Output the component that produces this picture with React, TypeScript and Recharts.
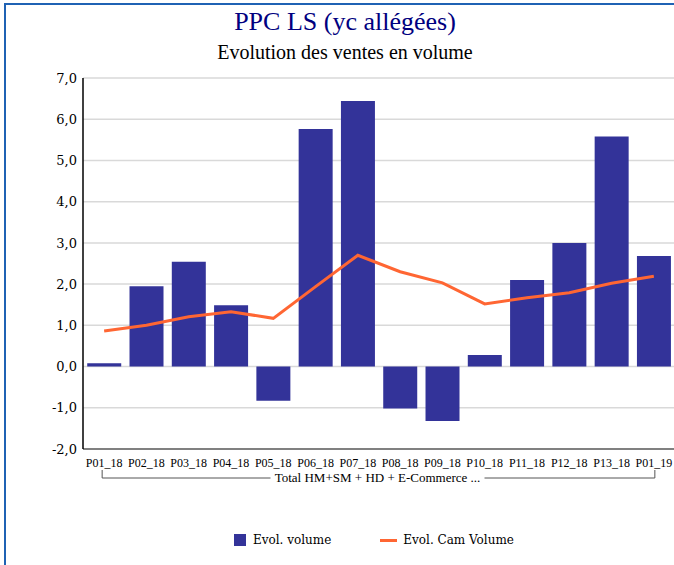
import React from "react";
import {
  ComposedChart,
  Bar,
  Line,
  XAxis,
  YAxis,
  CartesianGrid,
} from "recharts";

const categories = [
  "P01_18", "P02_18", "P03_18", "P04_18", "P05_18", "P06_18", "P07_18",
  "P08_18", "P09_18", "P10_18", "P11_18", "P12_18", "P13_18", "P01_19",
];
const evolVolume = [0.08, 1.95, 2.54, 1.49, -0.83, 5.76, 6.44, -1.02, -1.32, 0.28, 2.1, 3.0, 5.58, 2.68];
const evolCamVolume = [0.86, 1.0, 1.21, 1.33, 1.17, 1.94, 2.7, 2.3, 2.03, 1.52, 1.67, 1.79, 2.02, 2.19];
const yTicks = [-2, -1, 0, 1, 2, 3, 4, 5, 6, 7];
const groupLabel = "Total HM+SM + HD + E-Commerce ...";
const title = "PPC LS (yc allégées)";
const subtitle = "Evolution des ventes en volume";
const seriesNames = ["Evol. volume", "Evol. Cam Volume"];

const data = categories.map((c, i) => ({
  cat: c,
  vol: evolVolume[i],
  cam: evolCamVolume[i],
}));

const BAR_COLOR = "#333399";
const LINE_COLOR = "#ff6633";

const CHART_W = 680;
const CHART_H = 565;
const MARGIN = { top: 78, right: 5, bottom: 86, left: 0 };
const Y_W = 83;
const X_H = 30;
const PLOT_LEFT = MARGIN.left + Y_W;
const PLOT_W = CHART_W - MARGIN.left - MARGIN.right - Y_W;
const BAND = PLOT_W / categories.length;

const fmt = (v: number) => v.toFixed(1).replace(".", ",");

export default function App() {
  const bx1 = PLOT_LEFT + BAND / 2 - 2;
  const bx2 = PLOT_LEFT + PLOT_W - BAND / 2 + 1;
  const bmid = (bx1 + bx2) / 2;
  return (
    <div style={{ position: "absolute", left: 0, top: 0, width: 674, height: 565, overflow: "hidden", background: "#fff" }}>
      <div
        style={{
          position: "absolute",
          left: 4,
          top: 3,
          width: 720,
          height: 620,
          border: "2px solid #1f62b4",
          boxSizing: "border-box",
        }}
      />
      <div
        style={{
          position: "absolute",
          left: 0,
          width: 690,
          top: 8,
          textAlign: "center",
          fontFamily: "'Liberation Serif', serif",
          fontSize: 26,
          lineHeight: "28px",
          color: "#000080",
        }}
      >
        {title}
      </div>
      <div
        style={{
          position: "absolute",
          left: 0,
          width: 690,
          top: 42,
          textAlign: "center",
          fontFamily: "'Liberation Serif', serif",
          fontSize: 20,
          lineHeight: "21px",
          color: "#000",
        }}
      >
        {subtitle}
      </div>
      <div style={{ position: "absolute", left: 0, top: 0 }}>
        <ComposedChart width={CHART_W} height={CHART_H} data={data} margin={MARGIN} barCategoryGap="10%">
          <CartesianGrid horizontal vertical={false} stroke="#d9d9d9" strokeWidth={1.5} />
          <XAxis
            dataKey="cat"
            height={X_H}
            interval={0}
            tickLine={false}
            tickMargin={3}
            axisLine={{ stroke: "#808080", strokeWidth: 2 }}
            tick={{ fill: "#000", fontSize: 12, fontFamily: "Liberation Serif, serif" }}
          />
          <YAxis
            width={Y_W}
            domain={[-2, 7]}
            ticks={yTicks}
            interval={0}
            tickFormatter={fmt}
            tickLine={false}
            tickMargin={0}
            axisLine={{ stroke: "#000", strokeWidth: 1.5 }}
            tick={{ fill: "#000", fontSize: 13, fontFamily: "DejaVu Serif, serif" }}
          />
          <Bar dataKey="vol" fill={BAR_COLOR} isAnimationActive={false} />
          <Line
            dataKey="cam"
            type="linear"
            stroke={LINE_COLOR}
            strokeWidth={3}
            dot={false}
            activeDot={false}
            isAnimationActive={false}
          />
        </ComposedChart>
      </div>
      <svg style={{ position: "absolute", left: 0, top: 0 }} width={674} height={565}>
        <line x1={bx1} y1={470} x2={bx1} y2={478} stroke="#555" strokeWidth={1} />
        <line x1={bx2} y1={470} x2={bx2} y2={478} stroke="#555" strokeWidth={1} />
        <line x1={bx1} y1={478} x2={bmid - 108} y2={478} stroke="#555" strokeWidth={1} />
        <line x1={bmid + 106} y1={478} x2={bx2} y2={478} stroke="#555" strokeWidth={1} />
        <text
          x={bmid - 1}
          y={482}
          textAnchor="middle"
          fontFamily="Liberation Serif, serif"
          fontSize={13}
          fill="#000"
        >
          {groupLabel}
        </text>
      </svg>
      <div
        style={{
          position: "absolute",
          left: 234,
          top: 530,
          display: "flex",
          alignItems: "center",
          fontFamily: "'DejaVu Serif', serif",
          fontSize: 12,
          color: "#000",
          height: 20,
        }}
      >
        <span style={{ display: "inline-block", width: 12, height: 12, background: BAR_COLOR }} />
        <span style={{ marginLeft: 7 }}>{seriesNames[0]}</span>
        <span style={{ display: "inline-block", width: 17, height: 3, background: LINE_COLOR, marginLeft: 49 }} />
        <span style={{ marginLeft: 6 }}>{seriesNames[1]}</span>
      </div>
    </div>
  );
}
